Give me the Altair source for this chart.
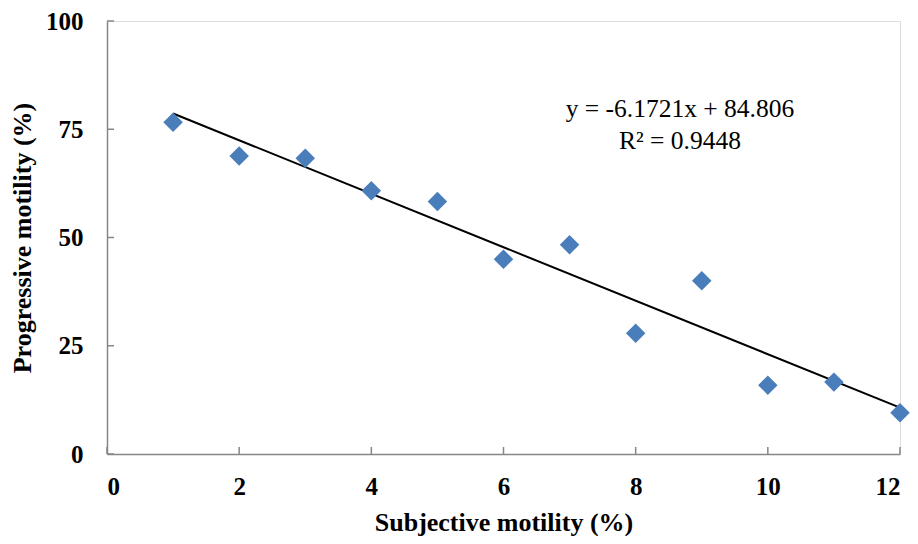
import altair as alt
import pandas as pd

x_vals = [1, 2, 3, 4, 5, 6, 7, 8, 9, 10, 11, 12]
y_vals = [76.6, 68.8, 68.3, 60.8, 58.3, 45.0, 48.3, 27.9, 40.0, 15.9, 16.6, 9.5]
x_ticks = [0, 2, 4, 6, 8, 10, 12]
y_ticks = [0, 25, 50, 75, 100]
eq_lines = ["y = -6.1721x + 84.806", "R² = 0.9448"]
eq_x = [8.67, 8.67]
eq_y = [79.7, 72.2]

df = pd.DataFrame({"x": x_vals, "y": y_vals})
xt = pd.DataFrame({"x": x_ticks})
yt = pd.DataFrame({"y": y_ticks})
eq = pd.DataFrame({"t": eq_lines, "x": eq_x, "y": eq_y})

FONT = "Liberation Serif"
AX = "#868686"

xs = alt.Scale(domain=[0, 12], nice=False, zero=True)
ys = alt.Scale(domain=[0, 100], nice=False, zero=True)

xaxis = alt.Axis(values=x_ticks, format="d", title="Subjective motility (%)", grid=False,
                 domainColor=AX, domainWidth=1.5, ticks=False, labelPadding=20,
                 labelFont=FONT, labelFontSize=25, labelFontWeight="bold", labelColor="black",
                 titleFont=FONT, titleFontSize=26, titleFontWeight="bold", titleColor="black",
                 titlePadding=10)
yaxis = alt.Axis(values=y_ticks, format="d", title="Progressive motility (%)", grid=False,
                 domainColor=AX, domainWidth=1.5, ticks=False, labelPadding=24,
                 labelFont=FONT, labelFontSize=25, labelFontWeight="bold", labelColor="black",
                 titleFont=FONT, titleFontSize=26, titleFontWeight="bold", titleColor="black",
                 titlePadding=10)

points = alt.Chart(df).mark_point(shape="diamond", filled=True, size=380,
                                  color="#4A7EBB", opacity=1).encode(
    x=alt.X("x:Q", scale=xs, axis=xaxis),
    y=alt.Y("y:Q", scale=ys, axis=yaxis),
)

trend = alt.Chart(df).transform_regression("x", "y").mark_line(
    color="black", strokeWidth=2).encode(
    x=alt.X("x:Q", scale=xs),
    y=alt.Y("y:Q", scale=ys),
)

ytick_marks = alt.Chart(yt).mark_rule(color=AX, strokeWidth=1.5).encode(
    y=alt.Y("y:Q", scale=ys),
    x=alt.value(0), x2=alt.value(7),
)
xtick_marks = alt.Chart(xt).mark_rule(color=AX, strokeWidth=1.5).encode(
    x=alt.X("x:Q", scale=xs),
    y=alt.value(433), y2=alt.value(426),
)

text = alt.Chart(eq).mark_text(font=FONT, fontSize=25.5, color="black",
                               align="center", baseline="middle").encode(
    x=alt.X("x:Q", scale=xs),
    y=alt.Y("y:Q", scale=ys),
    text="t:N",
)

chart = alt.layer(ytick_marks, xtick_marks, trend, points, text).properties(
    width=793, height=433,
    autosize=alt.AutoSizeParams(type="none"),
    padding={"left": 99, "top": 13, "right": 10, "bottom": 82},
).configure_view(stroke=None).configure(background="white")

chart.save("out.html", embed_options={"renderer": "svg", "actions": False})
